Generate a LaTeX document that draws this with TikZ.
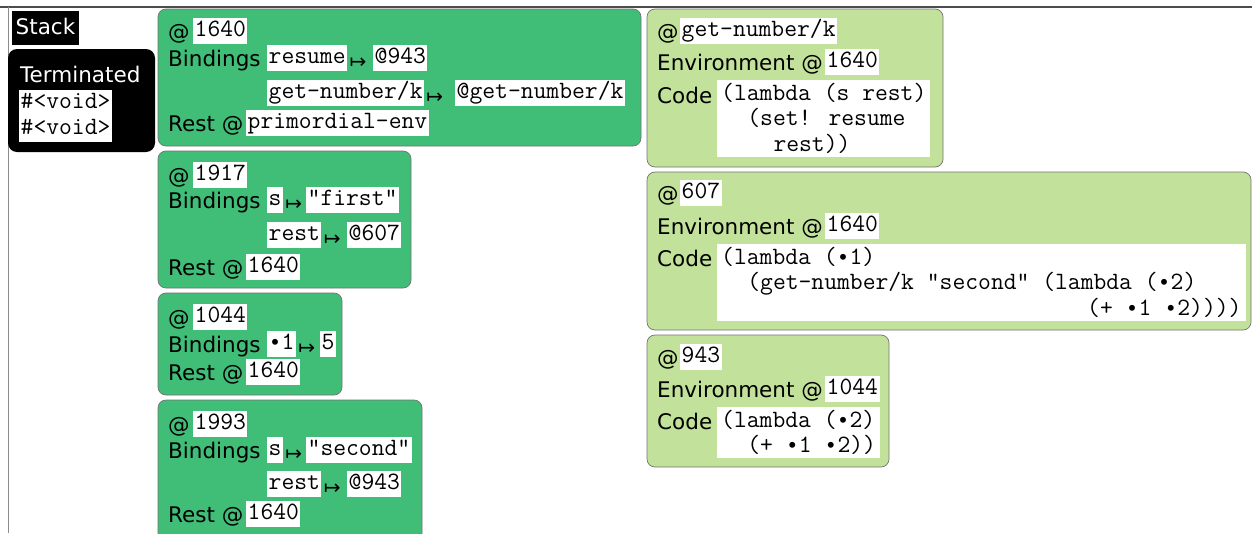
\documentclass[tikz,border=0pt]{standalone}
\usepackage{fontspec}
\newfontfamily\sansf{DejaVu Sans}
\newfontfamily\monof{Liberation Mono}
\newcommand\sfs{\sansf\fontsize{21.5}{25}\selectfont}
\newcommand\mfs{\ttfamily\fontsize{24.9}{25.5}\selectfont}
\newcommand\bul{{\monof\fontsize{21.7}{25.5}\selectfont •}}
\definecolor{dgreen}{RGB}{64,189,119}
\definecolor{lgreen}{RGB}{194,225,154}
\begin{document}
\begin{tikzpicture}[x=1pt,y=-1pt,
 frame/.style={draw=black!55,line width=0.7pt,rounded corners=8pt},
 dframe/.style={frame,fill=dgreen},
 lframe/.style={frame,fill=lgreen},
 lab/.style={font=\sfs,inner sep=0pt,anchor=base west},
 mb/.style={font=\mfs,fill=white,inner xsep=1.5pt,inner ysep=1.5pt,text height=17pt,text depth=6pt,anchor=base west},
 mto/.style={font=\sansf\fontsize{20}{20}\selectfont,inner sep=0pt,anchor=west},
 code/.style={font=\mfs,fill=white,inner xsep=4pt,inner ysep=3pt,align=left,anchor=north west}]
\clip (0,0) rectangle (1252,533);
\fill[white] (0,0) rectangle (1252,533);
\draw[black!70,line width=1.5pt] (0,7) -- (1252,7);
\draw[black!45,line width=1pt] (8,7) -- (8,533);

% Stack
\node[font=\sfs,fill=black,text=white,inner xsep=3.5pt,inner ysep=7pt,text height=16pt,text depth=4pt,anchor=north west] (stack) at (12,11) {Stack};
\fill[black,rounded corners=9pt] (8,49) rectangle (155,152);
\node[lab,text=white] (term) at (20,82) {Terminated};
\node[mb] (v1) at (19,108.5) {\#<void>};
\node[mb] (v2) at (19,134.5) {\#<void>};

% Frame 1640
\draw[dframe] (158,9) rectangle (641,146);
\node[lab] (d1at) at (168,39) {@};
\node[mb] (d1a) at (193,36.5) {1640};
\node[lab] (d1b) at (168,66) {Bindings};
\node[mb] (d1k1) at (267,63.5) {resume};
\node[mto] (d1m1) at ([xshift=2pt,yshift=-5pt]d1k1.east) {↦};
\node[mb] (d1v1) at (373,63.5) {@943};
\node[mb] (d1k2) at (267,98.5) {get-number/k};
\node[mto] (d1m2) at ([xshift=2pt,yshift=-5pt]d1k2.east) {↦};
\node[mb] (d1v2) at (455,98.5) {@get-number/k};
\node[lab] (d1r) at (168,131) {Rest @};
\node[mb] (d1rv) at (246,128.5) {primordial-env};

% Frame 1917
\draw[dframe] (158,151) rectangle (411,288);
\node[lab] (d2at) at (168,183) {@};
\node[mb] (d2a) at (193,180.5) {1917};
\node[lab] (d2b) at (168,208) {Bindings};
\node[mb] (d2k1) at (267,205.5) {s};
\node[mto] (d2m1) at ([xshift=2pt,yshift=-5pt]d2k1.east) {↦};
\node[mb] (d2v1) at (306,205.5) {"first"};
\node[mb] (d2k2) at (267,240.5) {rest};
\node[mto] (d2m2) at ([xshift=2pt,yshift=-5pt]d2k2.east) {↦};
\node[mb] (d2v2) at (347,240.5) {@607};
\node[lab] (d2r) at (168,275) {Rest @};
\node[mb] (d2rv) at (246,272.5) {1640};

% Frame 1044
\draw[dframe] (158,293) rectangle (342,395);
\node[lab] (d3at) at (168,325) {@};
\node[mb] (d3a) at (193,322.5) {1044};
\node[lab] (d3b) at (168,352) {Bindings};
\node[mb] (d3k1) at (267,349.5) {\bul1};
\node[mto] (d3m1) at ([xshift=2pt,yshift=-5pt]d3k1.east) {↦};
\node[mb] (d3v1) at (320,349.5) {5};
\node[lab] (d3r) at (168,380) {Rest @};
\node[mb] (d3rv) at (246,377.5) {1640};

% Frame 1993
\draw[dframe] (158,400) rectangle (422,548);
\node[lab] (d4at) at (168,432) {@};
\node[mb] (d4a) at (193,429.5) {1993};
\node[lab] (d4b) at (168,458) {Bindings};
\node[mb] (d4k1) at (267,455.5) {s};
\node[mto] (d4m1) at ([xshift=2pt,yshift=-5pt]d4k1.east) {↦};
\node[mb] (d4v1) at (306,455.5) {"second"};
\node[mb] (d4k2) at (267,489.5) {rest};
\node[mto] (d4m2) at ([xshift=2pt,yshift=-5pt]d4k2.east) {↦};
\node[mb] (d4v2) at (347,489.5) {@943};
\node[lab] (d4r) at (168,522) {Rest @};
\node[mb] (d4rv) at (246,519.5) {1640};

% Closure get-number/k
\draw[lframe] (647,9) rectangle (943,167);
\node[lab] (c1at) at (657,39) {@};
\node[mb] (c1a) at (680,36.5) {get-number/k};
\node[lab] (c1e) at (657,70) {Environment @};
\node[mb] (c1ev) at (825,67.5) {1640};
\node[lab] (c1c) at (657,103) {Code};
\node[code] (c1code) at (717,80) {(lambda (s rest)\\\hspace*{1.05em}(set! resume\\\hspace*{2.1em}rest))};

% Closure 607
\draw[lframe] (647,172) rectangle (1251,330);
\node[lab] (c2at) at (657,201) {@};
\node[mb] (c2a) at (680,198.5) {607};
\node[lab] (c2e) at (657,234) {Environment @};
\node[mb] (c2ev) at (825,231.5) {1640};
\node[lab] (c2c) at (657,266.5) {Code};
\node[code] (c2code) at (717,244) {(lambda (\bul1)\\\hspace*{1.05em}(get-number/k "second" (lambda (\bul2)\\\hspace*{14.7em}(+ \bul1 \bul2))))};

% Closure 943
\draw[lframe] (647,335) rectangle (889,467);
\node[lab] (c3at) at (657,365) {@};
\node[mb] (c3a) at (680,362.5) {943};
\node[lab] (c3e) at (657,397) {Environment @};
\node[mb] (c3ev) at (825,394.5) {1044};
\node[lab] (c3c) at (657,429.5) {Code};
\node[code] (c3code) at (717,407) {(lambda (\bul2)\\\hspace*{1.05em}(+ \bul1 \bul2))};
\end{tikzpicture}
\end{document}
